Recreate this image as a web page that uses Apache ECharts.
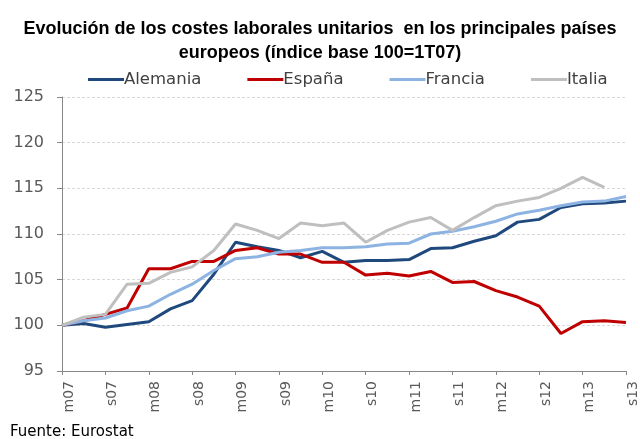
<!DOCTYPE html>
<html>
<head>
<meta charset="utf-8">
<script src="https://cdn.jsdelivr.net/npm/echarts@6/dist/echarts.min.js"></script>
<style>
  html, body { margin: 0; padding: 0; background: #fff; }
  #chart { width: 640px; height: 439px; }
</style>
</head>
<body>
<div id="chart"></div>
<script>
// trimestres 1T07 .. 3T13 (m = marzo, j = junio, s = septiembre, d = diciembre)
const quarters = ['m07', 'j07', 's07', 'd07', 'm08', 'j08', 's08', 'd08', 'm09', 'j09', 's09', 'd09',
  'm10', 'j10', 's10', 'd10', 'm11', 'j11', 's11', 'd11', 'm12', 'j12', 's12', 'd12', 'm13', 'j13', 's13']

const alemania = [100, 100.2, 99.8, 100.1, 100.4, 101.8, 102.7, 105.6, 109.1, 108.6, 108.2, 107.4,
  108.1, 106.9, 107.1, 107.1, 107.2, 108.4, 108.5, 109.2, 109.8, 111.3, 111.6, 112.9, 113.3, 113.4, 113.6]
const espana = [100, 100.5, 101.2, 101.9, 106.2, 106.2, 107.0, 107.0, 108.2, 108.5, 107.8, 107.8,
  106.9, 106.9, 105.5, 105.7, 105.4, 105.9, 104.7, 104.8, 103.8, 103.1, 102.1, 99.1, 100.4, 100.5, 100.3]
const francia = [100, 100.5, 100.8, 101.6, 102.1, 103.4, 104.5, 106.0, 107.3, 107.5, 108.0, 108.2,
  108.5, 108.5, 108.6, 108.9, 109.0, 110.0, 110.3, 110.8, 111.4, 112.2, 112.6, 113.1, 113.5, 113.6, 114.1]
const italia = [100, 100.9, 101.2, 104.5, 104.6, 105.8, 106.4, 108.2, 111.1, 110.4, 109.5, 111.2,
  110.9, 111.2, 109.1, 110.4, 111.3, 111.8, 110.4, 111.8, 113.1, 113.6, 114.0, 115.0, 116.2, 115.1, null]

const titleFont = 'Liberation Sans, Arial, sans-serif'
const font = 'DejaVu Sans, sans-serif'
const myChart = echarts.init(document.getElementById('chart'))

function serie(name, data, color) {
  return {
    name: name,
    type: 'line',
    data: data,
    symbol: 'none',
    lineStyle: { width: 3, color: color },
    itemStyle: { color: color }
  }
}

const options = {
  animation: false,
  title: {
    text: 'Evolución de los costes laborales unitarios  en los principales países\neuropeos (índice base 100=1T07)',
    left: 'center',
    top: 12,
    textStyle: {
      fontFamily: titleFont,
      fontSize: 18,
      fontWeight: 'bold',
      color: '#000',
      lineHeight: 24
    }
  },
  legend: {
    top: 66,
    left: 83,
    itemWidth: 36,
    itemHeight: 3,
    itemGap: 46,
    icon: 'rect',
    textStyle: { fontFamily: font, fontSize: 16.5, color: '#404040', padding: [0, 0, 0, -5] },
    data: ['Alemania', 'España', 'Francia', 'Italia']
  },
  grid: {
    left: 62,
    right: 10,
    top: 97,
    bottom: 68
  },
  xAxis: {
    type: 'category',
    data: quarters,
    boundaryGap: false,
    axisLine: { lineStyle: { color: '#868686', width: 1 } },
    axisTick: { show: true, interval: 1, length: 4, lineStyle: { color: '#868686' } },
    axisLabel: {
      interval: 1,
      rotate: 90,
      margin: 10,
      verticalAlign: 'top',
      fontFamily: font,
      fontSize: 14,
      color: '#595959'
    },
    splitLine: { show: false }
  },
  yAxis: {
    type: 'value',
    min: 95,
    max: 125,
    interval: 5,
    axisLine: { show: true, lineStyle: { color: '#868686', width: 1 } },
    axisTick: { show: true, length: 5, lineStyle: { color: '#868686' } },
    axisLabel: { fontFamily: font, fontSize: 16, color: '#595959', margin: 18 },
    splitLine: { lineStyle: { color: '#d9d9d9', type: [3, 2], width: 1 } }
  },
  graphic: [
    {
      type: 'text',
      left: 10,
      top: 425,
      style: { text: 'Fuente: Eurostat', fontFamily: font, fontSize: 15, fill: '#000' }
    }
  ],
  series: [
    serie('Alemania', alemania, '#1f497d'),
    serie('España', espana, '#c00000'),
    serie('Francia', francia, '#8db3e2'),
    serie('Italia', italia, '#bfbfbf')
  ]
}
myChart.setOption(options)
</script>
</body>
</html>
